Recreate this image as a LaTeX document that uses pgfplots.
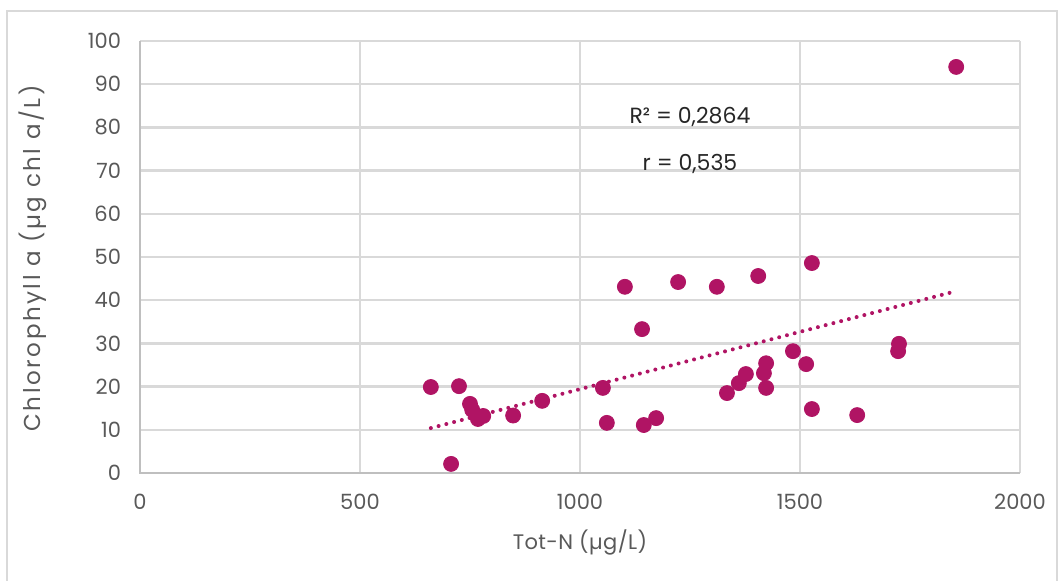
\documentclass[border=0pt]{standalone}
\usepackage{pgfplots}
\pgfplotsset{compat=1.18}
\usepackage{fontspec}
\setmainfont{Poppins}
\definecolor{dotc}{RGB}{176,20,100}
\definecolor{txt}{RGB}{89,89,89}
\definecolor{gridc}{RGB}{217,217,217}
\definecolor{axc}{RGB}{191,191,191}
\begin{document}
\begin{tikzpicture}
\begin{axis}[
  scale only axis,
  width=440pt, height=216pt,
  xmin=0, xmax=2000, ymin=0, ymax=100,
  xtick={0,500,...,2000}, ytick={0,10,...,100},
  grid=major,
  major grid style={gridc, line width=1.2pt},
  axis line style={draw=none},
  major tick length=0pt,
  tick label style={font=\fontsize{10.5}{12}\selectfont, text=txt},
  /pgf/number format/assume math mode=true,
  /pgf/number format/1000 sep={},
  xticklabel style={yshift=-7pt},
  yticklabel style={xshift=-6pt},
  clip=false,
  label style={font=\fontsize{10.5}{12}\selectfont, text=txt},
  xlabel={\addfontfeatures{LetterSpace=2}Tot-N (µg/L)},
  ylabel={\fontsize{11.5}{13}\selectfont\addfontfeatures{LetterSpace=11}Chlorophyll a (µg chl a/L)},
  xlabel style={at={(rel axis cs:0.5,-0.1597)}, anchor=center},
  ylabel style={at={(rel axis cs:-0.1216,0.497)}, anchor=center, rotate=0},
]
\path[use as bounding box] (rel axis cs:-0.1591,-0.25) rectangle (rel axis cs:1.05,1.0949);
\draw[gridc, line width=0.8pt] (rel axis cs:-0.1511,-0.3) -- (rel axis cs:-0.1511,1.0694) -- (rel axis cs:1.0420,1.0694) -- (rel axis cs:1.0420,-0.3);
\draw[axc, line width=1.3pt] (rel axis cs:0,1) -- (rel axis cs:0,0) -- (rel axis cs:1,0);
\addplot[only marks, mark=*, mark size=3.75pt, mark options={draw=dotc, fill=dotc}] coordinates {
(661,19.9) (725,20.1) (750,16.0) (755,14.6) (768,12.5) (780,13.2)
(707,2.1) (848,13.3) (914,16.7) (1052,19.7) (1061,11.6) (1102,43.1)
(1141,33.3) (1145,11.1) (1173,12.7) (1223,44.2) (1311,43.1) (1405,45.6)
(1334,18.5) (1361,20.8) (1377,22.9) (1423,25.4) (1418,23.1) (1423,19.7)
(1484,28.2) (1514,25.2) (1527,48.6) (1527,14.8) (1630,13.4) (1723,28.2)
(1725,29.9) (1855,94.0)
};
\addplot[dotc, line width=2pt, line cap=round, dash pattern=on 0pt off 4pt] coordinates {(661,10.4) (1855,42.1)};
\node[font=\fontsize{11}{13}\selectfont, text=black!85] at (axis cs:1250,82.4) {R² = 0,2864};
\node[font=\fontsize{11}{13}\selectfont, text=black!85] at (axis cs:1250,71.5) {r = 0,535};
\end{axis}
\end{tikzpicture}
\end{document}
